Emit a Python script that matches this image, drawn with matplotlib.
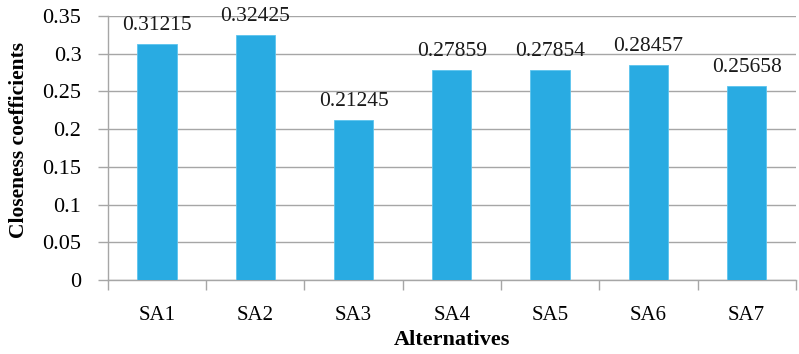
import matplotlib.pyplot as plt
import numpy as np

alternatives = ['SA1', 'SA2', 'SA3', 'SA4', 'SA5', 'SA6', 'SA7']
closeness = [0.31215, 0.32425, 0.21245, 0.27859, 0.27854, 0.28457, 0.25658]
yticks = [0, 0.05, 0.1, 0.15, 0.2, 0.25, 0.3, 0.35]

plt.rcParams['font.family'] = ['Liberation Serif', 'DejaVu Serif']

fig = plt.figure(figsize=(7.99, 3.54), dpi=100)
ax = fig.add_axes([0.135, 0.209, 0.861, 0.746])

x = np.arange(len(alternatives))
ax.bar(x, closeness, width=0.4, color='#29abe2', edgecolor='#5cc4ee', linewidth=0.6, zorder=3)

for xi, v in zip(x, closeness):
    ax.text(xi, v + 0.012, '%.5f' % v, ha='center', va='bottom', fontsize=15.5, color='#1a1a1a')

ax.set_xlim(-0.5, len(alternatives) - 0.5)
ax.set_ylim(0, 0.35)
ax.set_yticks(yticks)
ax.set_yticklabels(['0', '0.05', '0.1', '0.15', '0.2', '0.25', '0.3', '0.35'])
ax.yaxis.grid(True, color='#a6a6a6', linewidth=1.0, zorder=0)

# category labels at centres, tick marks on the boundaries between them
ax.set_xticks(x)
ax.set_xticklabels(alternatives)
ax.set_xticks(np.arange(len(alternatives) + 1) - 0.5, minor=True)
ax.tick_params(axis='x', which='major', length=0, pad=19, labelsize=15)
ax.tick_params(axis='x', which='minor', length=7, color='#a6a6a6', width=1.0)
ax.tick_params(axis='y', length=7, color='#a6a6a6', width=1.0, labelsize=16, pad=12)

for s in ['top', 'right']:
    ax.spines[s].set_visible(False)
for s in ['left', 'bottom']:
    ax.spines[s].set_color('#a6a6a6')
    ax.spines[s].set_linewidth(1.0)

ax.set_xlabel('Alternatives', fontsize=16, fontweight='bold', labelpad=3)
ax.set_ylabel('Closeness coefficients', fontsize=15.5, fontweight='bold')
ax.yaxis.set_label_coords(-0.115, 0.53)

fig.savefig('out.png', dpi=100)
